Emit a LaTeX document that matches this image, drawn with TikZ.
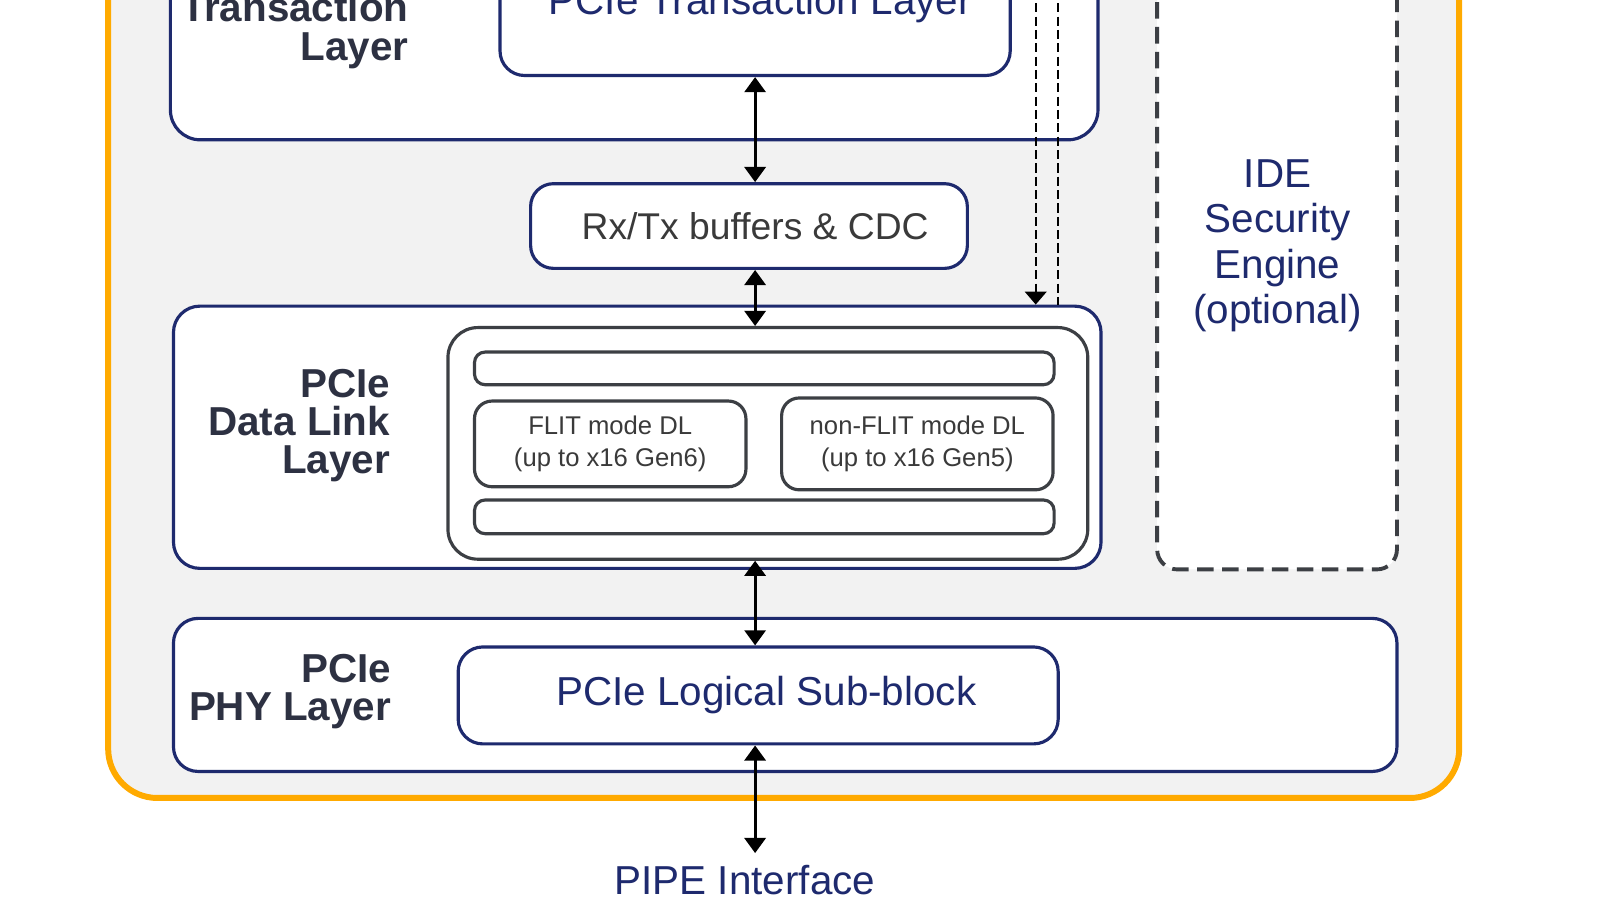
\documentclass[tikz,border=0pt]{standalone}
\usepackage{fontspec}
\setmainfont{Liberation Sans}
\usetikzlibrary{fit,arrows.meta,calc}
\definecolor{navy}{RGB}{30,42,110}
\definecolor{labelc}{RGB}{45,49,66}
\definecolor{txtgray}{RGB}{58,58,58}
\definecolor{bgray}{RGB}{242,242,242}
\definecolor{orng}{RGB}{255,170,0}
\definecolor{boxgray}{RGB}{60,63,68}
\begin{document}
\begin{tikzpicture}[x=0.010204cm,y=-0.010204cm,
  frame/.style={draw=orng, line width=1.7pt, fill=bgray, inner sep=0pt, rounded corners=14pt},
  navybox/.style={draw=navy, line width=0.9pt, fill=white, inner sep=0pt},
  graybox/.style={draw=boxgray, line width=0.9pt, fill=white, inner sep=0pt},
  idebox/.style={draw=boxgray, line width=1.1pt, dash pattern=on 4.7pt off 2.4pt, fill=white, inner sep=0pt, rounded corners=5.7pt},
  lbl/.style={font=\fontsize{11.5}{10.9}\selectfont\bfseries, text=labelc, align=right, inner sep=0pt},
  navytxt/.style={font=\fontsize{11.5}{12.6}\selectfont, text=navy, align=center, inner sep=0pt},
  graytxt/.style={font=\fontsize{10.6}{12}\selectfont, text=txtgray, align=center, inner sep=0pt},
  smalltxt/.style={font=\fontsize{7.3}{9.3}\selectfont, text=txtgray, align=center, inner sep=0pt},
  arr/.style={{Triangle[width=6pt,length=4.3pt]}-{Triangle[width=6pt,length=4.3pt]}, line width=0.85pt, black},
  dline/.style={line width=0.55pt, black, dash pattern=on 2.6pt off 1.2pt},
  darr/.style={dline, -{Triangle[width=6.2pt,length=3.7pt]}}
]
\useasboundingbox (0,0) rectangle (1568,882);
\clip (0,0) rectangle (1568,882);
\fill[white] (0,0) rectangle (1568,882);

% outer frame
\node[frame, fit={(106,-120) (1430,782)}] (outer) {};

% Transaction layer
\node[navybox, rounded corners=8.5pt, fit={(167,-100) (1076,137)}] (tl) {};
\node[navybox, rounded corners=7pt, fit={(490,-60) (990,74)}] (tlin) {};
\node[navytxt, anchor=base] (tltext) at (745,14) {PCIe Transaction Layer};
\node[lbl, anchor=east] (tllbl) at (401,30) {Transaction\\Layer};

% IDE engine
\node[idebox, fit={(1134,-60) (1369,558)}] (ide) {};
\node[navytxt, font=\fontsize{11.5}{12.9}\selectfont] (idetext) at (1252,241) {IDE\\Security\\Engine\\(optional)};

% Rx/Tx
\node[navybox, rounded corners=6.5pt, fit={(520,180) (948,263)}] (rxtx) {};
\node[graytxt] (rxtxtext) at (740,222) {Rx/Tx buffers \& CDC};

% Data link layer
\node[navybox, rounded corners=7.5pt, fit={(170,300) (1079,557)}] (dl) {};
\node[lbl, anchor=east] (dllbl) at (383,417) {PCIe\\Data Link\\Layer};
\node[graybox, rounded corners=8.5pt, fit={(439,321) (1066,548)}] (dlin) {};
\node[graybox, rounded corners=3pt, fit={(465,345) (1033,377)}] (bartop) {};
\node[graybox, rounded corners=5pt, fit={(465,393) (731,477)}] (flit) {};
\node[smalltxt] (flittext) at (flit.center) {FLIT mode DL\\(up to x16 Gen6)};
\node[graybox, rounded corners=5pt, fit={(766,390) (1032,480)}] (nflit) {};
\node[smalltxt] (nflittext) at (nflit.center) {non-FLIT mode DL\\(up to x16 Gen5)};
\node[graybox, rounded corners=3pt, fit={(465,490) (1033,523)}] (barbot) {};

% PHY layer
\node[navybox, rounded corners=7pt, fit={(170,606) (1369,756)}] (phy) {};
\node[lbl, anchor=east] (phylbl) at (384,678) {PCIe\\PHY Layer};
\node[navybox, rounded corners=7pt, fit={(449,634) (1037,729)}] (logic) {};
\node[navytxt] (logictext) at (751,681) {PCIe Logical Sub-block};

% PIPE
\coordinate (pipeend) at (740,836);
\node[navytxt] (pipe) at (730,862) {PIPE Interface};

% arrows
\coordinate (ax) at (740,0);
\draw[arr] (ax |- tlin.south) -- (ax |- rxtx.north);
\draw[arr] (ax |- rxtx.south) -- (ax |- dlin.north);
\draw[arr] (ax |- dlin.south) -- (ax |- logic.north);
\draw[arr] (ax |- logic.south) -- (pipeend);

% dashed lines
\coordinate (d1top) at (1015,-10);
\coordinate (d2top) at (1037,-10);
\draw[darr] (d1top) -- (d1top |- dl.north);
\draw[dline] (d2top) -- (d2top |- dl.north);
\end{tikzpicture}
\end{document}
